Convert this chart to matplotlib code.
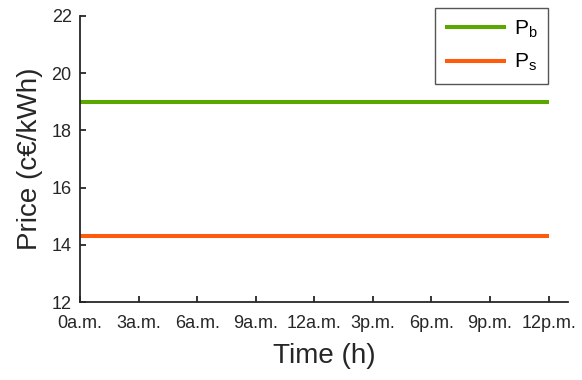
import matplotlib.pyplot as plt

plt.rcParams['font.family'] = ['Liberation Sans', 'DejaVu Sans']

hours = list(range(25))
p_buy = [19.0] * 25
p_sell = [14.3] * 25
tick_hours = [0, 3, 6, 9, 12, 15, 18, 21, 24]
tick_labels = ['0a.m.', '3a.m.', '6a.m.', '9a.m.', '12a.m.',
               '3p.m.', '6p.m.', '9p.m.', '12p.m.']

fig = plt.figure(figsize=(5.82, 3.80), dpi=100)
ax = fig.add_axes([0.1375, 0.205, 0.8385, 0.753])

ax.plot(hours, p_buy, color='#5aa700', lw=2.9, solid_capstyle='butt',
        label=r'$\mathregular{P_b}$')
ax.plot(hours, p_sell, color='#ff5b0a', lw=2.9, solid_capstyle='butt',
        label=r'$\mathregular{P_s}$')

ax.set_xlim(0, 25)
ax.set_ylim(12, 22)
ax.set_yticks([12, 14, 16, 18, 20, 22])
ax.set_xticks(tick_hours)
ax.set_xticklabels(tick_labels)
ax.tick_params(direction='in', labelsize=13, colors='#262626', length=4, width=1.3)
ax.tick_params(axis='x', pad=9)
ax.tick_params(axis='y', pad=6)
for s in ['top', 'right']:
    ax.spines[s].set_visible(False)
for s in ['left', 'bottom']:
    ax.spines[s].set_linewidth(1.3)
    ax.spines[s].set_color('#262626')

ax.set_xlabel('Time (h)', fontsize=20, color='#262626', labelpad=8)
ax.set_ylabel('Price (c€/kWh)', fontsize=20, color='#262626', labelpad=6)

leg = ax.legend(loc='upper right', bbox_to_anchor=(0.959, 1.028), fontsize=15,
                fancybox=False, framealpha=1, edgecolor='#555555',
                handlelength=2.9, borderpad=0.5, labelspacing=0.6,
                handletextpad=0.4, borderaxespad=0)
leg.get_frame().set_linewidth(1.0)

fig.savefig('out.png', dpi=100)
